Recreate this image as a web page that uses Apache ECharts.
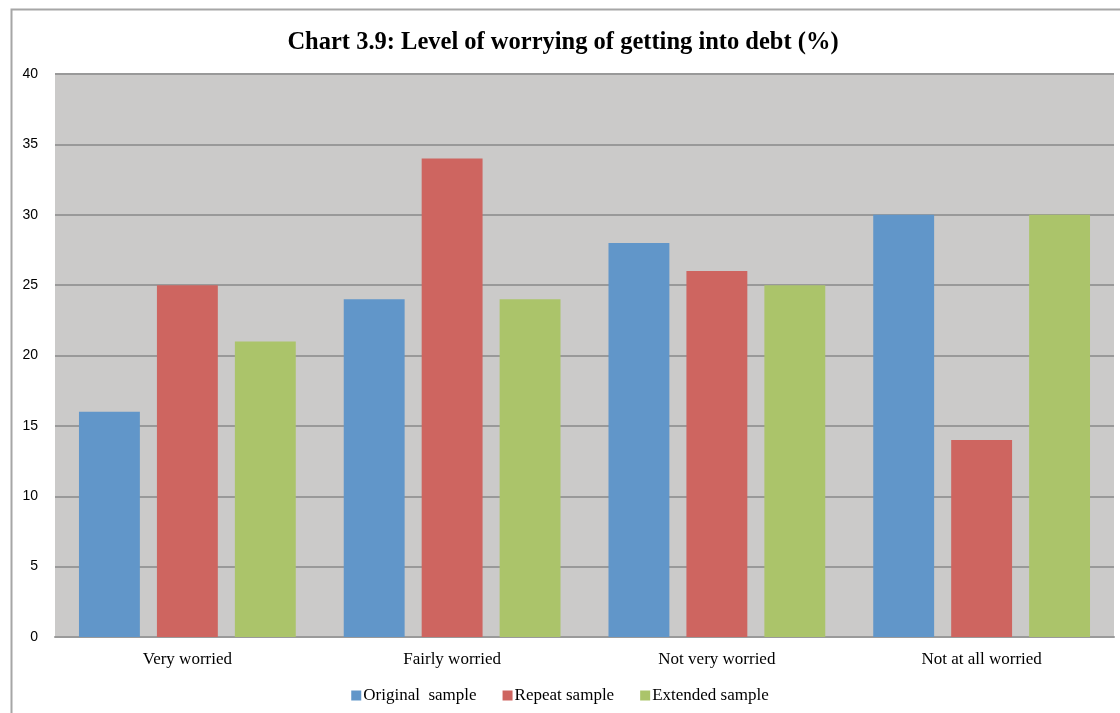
<!DOCTYPE html>
<html>
<head>
<meta charset="utf-8">
<title>Level of worrying of getting into debt</title>
<script src="https://cdn.jsdelivr.net/npm/echarts@6/dist/echarts.min.js"></script>
<style>
  html, body { margin: 0; padding: 0; background: #ffffff; }
  #chart { width: 1120px; height: 713px; }
</style>
</head>
<body>
<div id="chart"></div>
<script>
// Worry levels (percent of respondents) by sample
const categories = ['Very worried', 'Fairly worried', 'Not very worried', 'Not at all worried'];
const seriesNames = ['Original  sample', 'Repeat sample', 'Extended sample'];
const originalSample = [16, 24, 28, 30];
const repeatSample = [25, 34, 26, 14];
const extendedSample = [21, 24, 25, 30];
const colors = ['#6196C9', '#CE6560', '#ABC46A'];

const chart = echarts.init(document.getElementById('chart'), null, { renderer: 'canvas' });

const serif = '"Liberation Serif", "DejaVu Serif", serif';
const sans = '"Liberation Sans", Arial, sans-serif';

const values = [originalSample, repeatSample, extendedSample];

chart.setOption({
  animation: false,
  backgroundColor: '#ffffff',
  title: {
    text: 'Chart 3.9: Level of worrying of getting into debt (%)',
    left: 558,
    top: 25,
    textAlign: 'center',
    textStyle: { fontFamily: serif, fontSize: 24.5, fontWeight: 'bold', color: '#000000' }
  },
  graphic: [{
    type: 'rect',
    shape: { x: 11.5, y: 9.5, width: 1200, height: 800 },
    style: { fill: 'none', stroke: '#a6a6a6', lineWidth: 2 },
    silent: true,
    z: -1
  }],
  legend: {
    bottom: 4,
    left: 'center',
    itemWidth: 10,
    itemHeight: 10,
    itemGap: 26,
    icon: 'rect',
    textStyle: { fontFamily: serif, fontSize: 17, color: '#000000', padding: [0, 0, 0, -3] },
    data: seriesNames
  },
  grid: {
    left: 55,
    right: 6,
    top: 74,
    bottom: 76,
    show: true,
    backgroundColor: '#CBCAC9',
    borderWidth: 0
  },
  xAxis: {
    type: 'category',
    data: categories,
    axisLine: { show: true, lineStyle: { color: '#9a9a9a', width: 2 } },
    axisTick: { show: false },
    axisLabel: { fontFamily: serif, fontSize: 17, color: '#000000', margin: 14 }
  },
  yAxis: {
    type: 'value',
    min: 0,
    max: 40,
    interval: 5,
    axisLine: { show: false },
    axisTick: { show: false },
    axisLabel: { fontFamily: sans, fontSize: 14, color: '#000000', margin: 17 },
    splitLine: { show: true, lineStyle: { color: '#999999', width: 2 } }
  },
  series: seriesNames.map((name, i) => ({
    name: name,
    type: 'bar',
    data: values[i],
    barWidth: '23%',
    barGap: '28%',
    itemStyle: { color: colors[i] }
  }))
});
</script>
</body>
</html>
